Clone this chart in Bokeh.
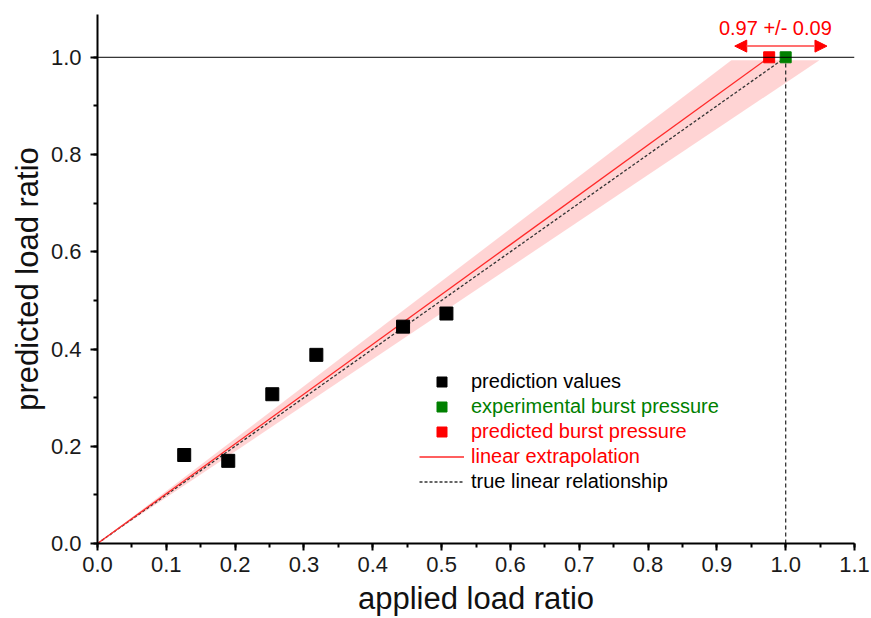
from bokeh.plotting import figure
from bokeh.models import (Range1d, SingleIntervalTicker, PrintfTickFormatter, Span,
                          Legend, LegendItem, Arrow, NormalHead, Label)
from bokeh.embed import file_html
from bokeh.resources import INLINE

# ---- data ----
applied = [0.126, 0.190, 0.254, 0.318, 0.444, 0.507]
predicted = [0.182, 0.170, 0.307, 0.388, 0.446, 0.473]
exp_x = [1.0]
exp_y = [1.0]
pred_x = [0.976]
pred_y = [1.0]
fit_x = [0.0, 0.976]
fit_y = [0.0, 1.0]
true_x = [0.0, 1.0]
true_y = [0.0, 1.0]
band_y = [0.0, 0.994]
band_x_lo = [0.0, 0.921]
band_x_hi = [0.0, 1.049]
err_lo = 0.926
err_hi = 1.06
err_text = "0.97 +/- 0.09"

FONT = "Liberation Sans"

p = figure(width=871, height=618, output_backend="svg", toolbar_location=None,
           x_range=Range1d(0, 1.1), y_range=Range1d(0, 1.088),
           min_border_left=97, min_border_right=17, min_border_top=14, min_border_bottom=74)
p.outline_line_color = None
p.xgrid.visible = False
p.ygrid.visible = False
p.background_fill_color = "white"
p.border_fill_color = "white"

# band
p.harea(x1=band_x_lo, x2=band_x_hi, y=band_y, fill_color="#ff0000", fill_alpha=0.17)

# reference lines
p.add_layout(Span(location=exp_y[0], dimension="width", line_color="black", line_width=1))
p.line([exp_x[0], exp_x[0]], [0, exp_y[0]], line_color="#333333", line_dash="4 3", line_width=1.3)

r_true = p.line(true_x, true_y, line_color="#333333", line_dash="3 2", line_width=1.3)
r_fit = p.line(fit_x, fit_y, line_color="#ff2a2a", line_width=1.3)

r_pts = p.scatter(applied, predicted, marker="square", size=13, fill_color="black", line_color="black")
r_exp = p.scatter(exp_x, exp_y, marker="square", size=11, fill_color="#008000", line_color="#008000")
r_pred = p.scatter(pred_x, pred_y, marker="square", size=11, fill_color="#ff0000", line_color="#ff0000")

# error arrow
p.add_layout(Arrow(x_start=err_lo, x_end=err_hi, y_start=1.023, y_end=1.023,
                   line_color="#ff7070", line_width=2,
                   start=NormalHead(size=12, fill_color="red", line_color="red"),
                   end=NormalHead(size=12, fill_color="red", line_color="red")))
p.add_layout(Label(x=0.985, y=1.061, text=err_text, text_align="center",
                   text_baseline="middle", text_color="red", text_font=FONT,
                   text_font_size="20px"))

# axes
for ax, interval in ((p.xaxis[0], 0.1), (p.yaxis[0], 0.2)):
    ax.ticker = SingleIntervalTicker(interval=interval, num_minor_ticks=2)
    ax.formatter = PrintfTickFormatter(format="%.1f")
    ax.axis_line_width = 2
    ax.major_tick_line_width = 2
    ax.minor_tick_line_width = 2
    ax.major_tick_out = 7
    ax.major_tick_in = 0
    ax.minor_tick_out = 4
    ax.minor_tick_in = 0
    ax.major_label_text_font = FONT
    ax.major_label_text_font_size = "22px"
    ax.major_label_text_color = "#1a1a1a"
    ax.axis_label_text_font = FONT
    ax.axis_label_text_font_size = "31px"
    ax.axis_label_text_font_style = "normal"
    ax.axis_label_text_color = "#111111"
p.xaxis.axis_label = "applied load ratio"
p.yaxis.axis_label = "predicted load ratio"
p.xaxis.major_label_standoff = 6
p.yaxis.major_label_standoff = 9
p.xaxis.axis_label_standoff = 6
p.yaxis.axis_label_standoff = 3

# legends (one per entry, to colour each label)
entries = [
    ("prediction values", r_pts, "black"),
    ("experimental burst pressure", r_exp, "#008000"),
    ("predicted burst pressure", r_pred, "#ff0000"),
    ("linear extrapolation", r_fit, "#ff0000"),
    ("true linear relationship", r_true, "black"),
]
row_bottom = 149.5
for i, (lab, rend, col) in enumerate(entries):
    lg = Legend(items=[LegendItem(label=lab, renderers=[rend])],
                location=(322, row_bottom - i * 25),
                padding=0, margin=0, border_line_color=None, background_fill_alpha=0,
                glyph_width=45, glyph_height=25, label_height=25, label_standoff=7,
                label_text_font=FONT, label_text_font_size="20px", label_text_color=col)
    p.add_layout(lg)

open("out.html", "w").write(file_html(p, INLINE))
